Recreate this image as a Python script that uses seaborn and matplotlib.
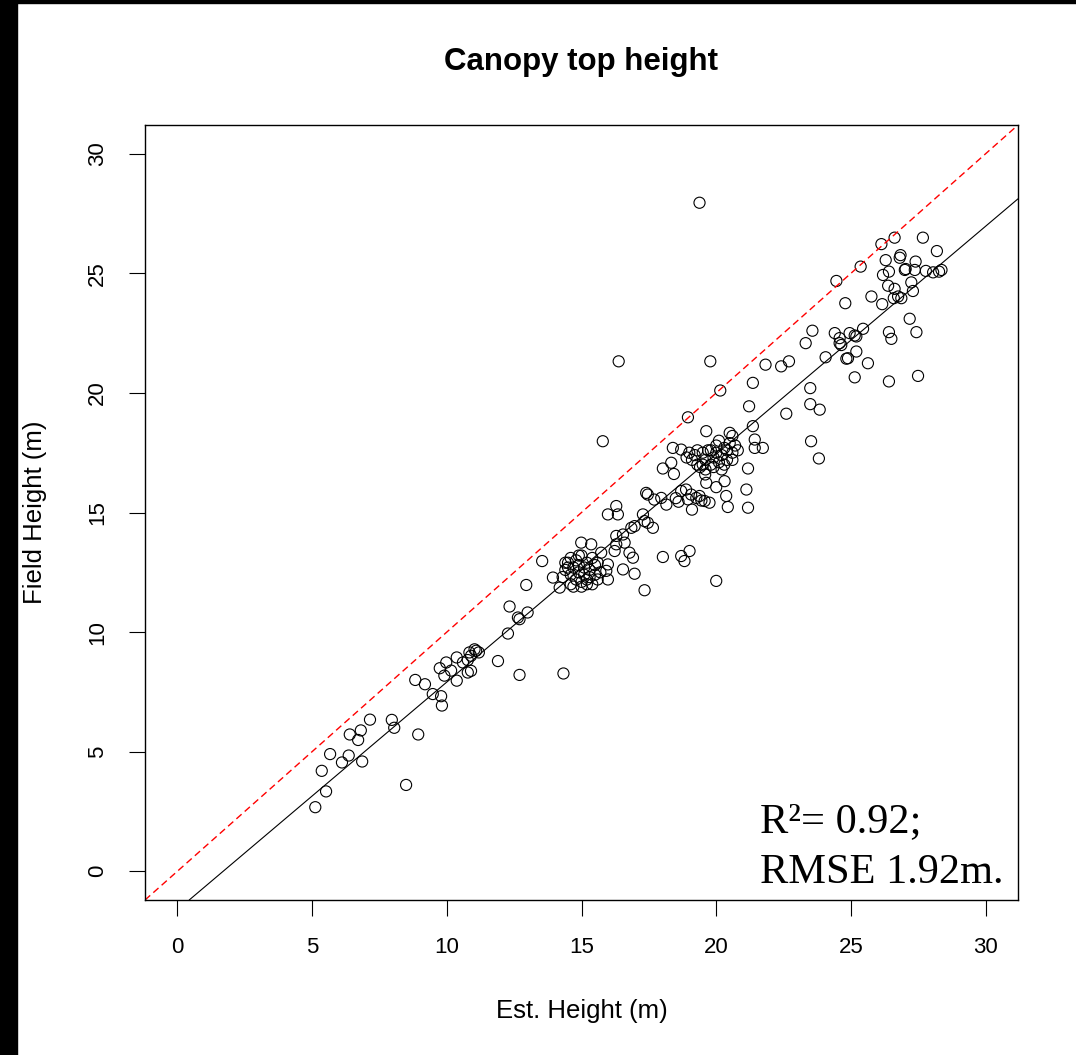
import pandas as pd
import matplotlib
matplotlib.use("Agg")
import matplotlib.pyplot as plt
import seaborn as sns
from matplotlib.patches import Rectangle

# Values (Est. height vs Field height, m)
est_height = [
    5.12, 5.52, 5.36, 5.67, 6.11, 6.36, 6.86, 6.40, 6.71, 6.81,
    7.15, 7.96, 8.05, 8.94, 8.49, 8.83, 9.19, 9.48, 9.79, 9.82,
    9.74, 9.98, 9.91, 10.16, 10.37, 10.37, 10.60, 10.78, 10.78, 10.90,
    11.03, 11.09, 11.19, 10.84, 10.90, 11.90, 12.70, 14.33, 12.27, 12.33,
    12.64, 12.70, 13.00, 12.95, 14.19,
    13.54, 13.94, 14.99, 15.36, 15.73, 15.98, 15.92, 15.98, 16.29, 16.23,
    16.29, 16.54, 16.60, 16.78, 16.91, 16.85, 16.97, 16.54, 16.97, 17.34,
    15.98, 16.29, 16.35, 17.28, 17.34, 17.46, 17.65, 17.46, 17.96, 18.02,
    18.70, 18.82, 19.01, 20.00,
    14.4, 14.5, 14.6, 14.6, 14.7, 14.8, 14.8, 14.9, 14.9, 15.0,
    15.0, 15.1, 15.1, 15.2, 15.2, 15.3, 15.3, 15.4, 15.4, 15.5,
    15.5, 14.6, 14.3, 15.6, 15.0, 14.7, 15.2, 14.5, 14.9, 15.6,
    15.7, 14.4,
    15.79, 20.15, 21.36, 18.95, 21.22, 22.60, 21.36, 19.63, 20.50, 21.43,
    21.43, 21.73, 21.18, 21.12, 21.18, 20.37, 20.43, 20.31, 18.39, 18.70,
    18.33, 18.02, 18.43, 19.63, 20.00, 19.59, 17.40, 17.70, 18.15, 18.70,
    18.88, 19.07, 19.26, 19.38, 19.57, 19.75, 19.10, 18.50, 18.60, 19.45,
    18.95,
    19.2, 19.3, 19.5, 19.6, 19.7, 19.8, 19.9, 20.0, 20.1, 20.2,
    20.3, 20.4, 20.5, 20.6, 20.7, 20.8, 19.4, 19.6, 19.9, 20.2,
    19.1, 19.3, 20.0, 20.4, 20.6, 19.8, 19.5, 20.1, 20.6, 19.0,
    18.9, 20.3,
    23.57, 23.32, 24.40, 24.95, 24.58, 25.14, 25.45, 25.20, 24.83, 25.63,
    24.06, 25.14, 26.41, 27.49, 26.41, 26.50, 27.18, 27.43, 22.70, 22.41,
    21.83, 23.49, 23.49, 23.84, 23.52, 23.81, 26.62, 26.13, 27.67, 28.19,
    26.84, 26.81, 26.29, 27.40, 27.00, 27.37, 27.78, 28.05, 28.36, 28.27,
    27.03, 26.41, 26.19, 25.36, 24.46, 26.38, 26.62, 27.24, 27.30, 26.75,
    26.87, 26.59, 25.76, 26.16, 24.79, 24.58, 24.64, 25.20, 24.89, 19.38,
    16.38, 19.78,
]
field_height = [
    2.68, 3.34, 4.20, 4.90, 4.55, 4.84, 4.59, 5.72, 5.49, 5.89,
    6.34, 6.33, 6.00, 5.72, 3.61, 8.00, 7.82, 7.41, 7.32, 6.93,
    8.49, 8.73, 8.18, 8.39, 7.97, 8.94, 8.73, 8.83, 8.31, 8.38,
    9.28, 9.22, 9.15, 9.15, 9.01, 8.79, 8.21, 8.27, 9.94, 11.07,
    10.61, 10.54, 10.82, 11.97, 11.86,
    12.97, 12.28, 13.74, 13.67, 13.32, 12.83, 12.56, 12.20, 13.67, 13.39,
    14.02, 14.08, 13.74, 13.32, 13.11, 14.36, 14.43, 12.62, 12.44, 11.75,
    14.92, 15.27, 14.92, 14.92, 14.64, 14.57, 14.36, 15.75, 15.61, 13.14,
    13.18, 12.97, 13.39, 12.14,
    12.6, 12.9, 12.4, 13.1, 12.7, 12.2, 13.0, 12.5, 12.8, 12.1,
    13.2, 12.4, 12.7, 12.0, 12.9, 12.3, 12.6, 12.0, 13.1, 12.4,
    12.8, 12.0, 12.3, 12.2, 11.9, 11.9, 12.2, 12.7, 13.2, 12.9,
    12.5, 12.9,
    17.98, 20.10, 20.42, 18.98, 19.44, 19.13, 18.61, 18.40, 18.33, 18.05,
    17.70, 17.70, 16.84, 15.96, 15.20, 15.69, 15.23, 16.31, 17.70, 17.63,
    17.08, 16.84, 16.61, 16.24, 16.06, 16.59, 15.82, 15.54, 15.33, 15.90,
    15.96, 15.75, 15.61, 15.69, 15.48, 15.41, 15.12, 15.60, 15.45, 15.50,
    15.55,
    17.4, 17.6, 17.5, 17.2, 17.6, 17.0, 17.3, 17.5, 17.1, 17.4,
    17.7, 17.2, 17.9, 17.5, 17.8, 17.6, 16.9, 16.8, 16.9, 16.8,
    17.2, 17.0, 17.8, 17.6, 17.2, 17.6, 17.0, 18.0, 18.2, 17.5,
    17.3, 17.0,
    22.60, 22.08, 22.50, 22.50, 22.08, 22.40, 22.68, 21.73, 21.43, 21.24,
    21.49, 20.65, 20.48, 20.71, 22.54, 22.26, 23.10, 22.54, 21.32, 21.11,
    21.18, 20.20, 19.53, 19.30, 17.98, 17.26, 26.49, 26.22, 26.49, 25.93,
    25.76, 25.65, 25.55, 25.49, 25.14, 25.14, 25.10, 25.04, 25.14, 25.07,
    25.18, 25.07, 24.93, 25.28, 24.68, 24.48, 24.35, 24.62, 24.26, 24.03,
    23.96, 23.96, 24.03, 23.71, 23.75, 22.29, 22.00, 22.36, 21.45, 27.95,
    21.32, 21.32,
]

# regression line (solid), 1:1 line is dashed red
fit_intercept = -1.62
fit_slope = 0.953
axis_ticks = [0, 5, 10, 15, 20, 25, 30]
stats_lines = ["R\u00b2= 0.92;", "RMSE 1.92m."]

df = pd.DataFrame({"est": est_height, "field": field_height})

sns.set_theme(style="ticks")
plt.rcParams["font.family"] = ["Liberation Sans", "DejaVu Sans"]
plt.rcParams["text.color"] = "black"

W, H = 1076, 1055
fig = plt.figure(figsize=(W / 100, H / 100), dpi=100)
fig.patch.set_facecolor("white")
ax = fig.add_axes([145 / W, 1 - 900 / H, 873 / W, 775 / H])

sns.scatterplot(data=df, x="est", y="field", ax=ax, marker="o", s=64,
                facecolor="none", edgecolor="black", linewidth=0.8)

ax.axline((0, 0), slope=1, color="red", linestyle=(0, (5, 3)), linewidth=1)
ax.axline((0, fit_intercept), slope=fit_slope, color="black", linewidth=0.8)

ax.set_xlim(-1.2, 31.2)
ax.set_ylim(-1.2, 31.2)
ax.set_xticks(axis_ticks)
ax.set_yticks(axis_ticks)
ax.tick_params(length=11.5, width=0.8, color="black", labelsize=16,
               pad=15, labelcolor="black")
ax.tick_params(axis="y", labelrotation=90)
for lab in ax.get_yticklabels():
    lab.set_va("center")
for sp in ax.spines.values():
    sp.set_visible(True)
    sp.set_color("black")
    sp.set_linewidth(1)

ax.set_xlabel("Est. Height (m)", fontsize=18.5, color="black")
ax.set_ylabel("Field Height (m)", fontsize=18.5, color="black")
ax.xaxis.set_label_coords(0.5, -0.128)
ax.yaxis.set_label_coords(-0.112, 0.5)

fig.text(581 / W, 1 - 62 / H, "Canopy top height", ha="center", va="center",
         fontsize=22.5, fontweight="bold", color="black")

ax.text(0.7045, 0.0877, stats_lines[0], transform=ax.transAxes, ha="left",
        va="baseline", fontsize=30.5, color="black",
        family=["Liberation Serif", "DejaVu Serif"])
ax.text(0.7045, 0.022, stats_lines[1], transform=ax.transAxes, ha="left",
        va="baseline", fontsize=30.5, color="black",
        family=["Liberation Serif", "DejaVu Serif"])

# black frame edges seen in the screenshot
fig.add_artist(Rectangle((0, 0), 17 / W, 1, transform=fig.transFigure,
                         color="black", zorder=10))
fig.add_artist(Rectangle((0, 1 - 3 / H), 1, 3 / H, transform=fig.transFigure,
                         color="black", zorder=10))

fig.savefig("out.png", dpi=100)
